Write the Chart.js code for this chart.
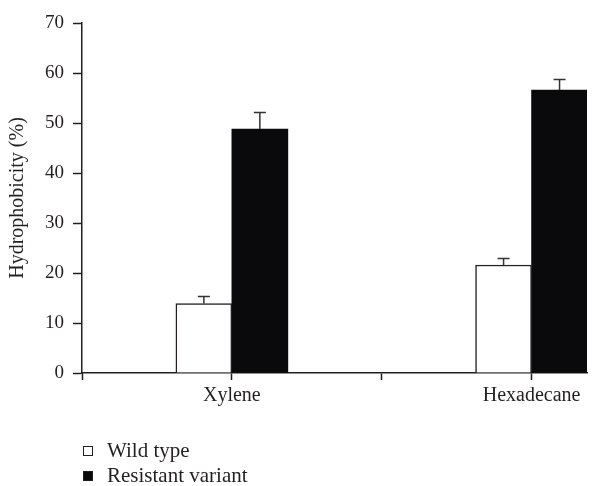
<!DOCTYPE html>
<html>
<head>
<meta charset="utf-8">
<script src="https://cdn.jsdelivr.net/npm/chart.js@4"></script>
<style>
  body { margin: 0; background: #fff; }
  #wrap { position: relative; width: 600px; height: 486px; }
  #legend { position: absolute; left: 83px; top: 438px; font-family: "Liberation Serif", serif; font-size: 21px; color: #231f20; }
  #legend .item { display: flex; align-items: center; height: 25px; }
  #legend .box { width: 10px; height: 10px; box-sizing: border-box; border: 1.3px solid #231f20; margin-right: 14px; }
</style>
</head>
<body>
<div id="wrap">
  <canvas id="chart" width="600" height="486"></canvas>
  <div id="legend"></div>
</div>
<script>
// values
const categories = ['Xylene', 'Hexadecane'];
const seriesNames = ['Wild type', 'Resistant variant'];
const wildType = [13.9, 21.6];
const wildTypeErr = [1.4, 1.3];
const resistant = [48.8, 56.6];
const resistantErr = [3.3, 2.1];
const yTicks = [0, 10, 20, 30, 40, 50, 60, 70];

const ink = '#231f20';
const font = "'Liberation Serif', serif";

// category i sits on x = 2i + 1, ticks in between are unlabeled
const toPoints = vals => vals.map((v, i) => ({ x: 2 * i + 1, y: v }));

const errorBars = {
    id: 'errorBars',
    afterDatasetsDraw(chart) {
        const ctx = chart.ctx, yScale = chart.scales.y;
        ctx.save();
        ctx.strokeStyle = '#333';
        ctx.lineWidth = 1.5;
        chart.data.datasets.forEach((ds, di) => {
            chart.getDatasetMeta(di).data.forEach((bar, i) => {
                const top = yScale.getPixelForValue(ds.data[i].y + ds.errors[i]);
                ctx.beginPath();
                ctx.moveTo(bar.x, bar.y);
                ctx.lineTo(bar.x, top);
                ctx.moveTo(bar.x - 6, top);
                ctx.lineTo(bar.x + 6, top);
                ctx.stroke();
            });
        });
        ctx.restore();
    }
};

const chart = new Chart(document.getElementById('chart').getContext('2d'), {
    type: 'bar',
    data: {
        datasets: [
            { label: seriesNames[0], data: toPoints(wildType), errors: wildTypeErr, backgroundColor: '#fff', borderColor: ink, borderWidth: 1.5, barThickness: 56 },
            { label: seriesNames[1], data: toPoints(resistant), errors: resistantErr, backgroundColor: '#0a0a0c', borderColor: '#0a0a0c', borderWidth: 0, barThickness: 56 }
        ]
    },
    options: {
        responsive: false,
        animation: false,
        layout: { padding: { left: 0, right: 13, top: 23, bottom: 73 } },
        plugins: { legend: { display: false }, tooltip: { enabled: false } },
        scales: {
            x: {
                type: 'linear', min: 0, max: 3.37, offset: false,
                afterFit: s => { s.height = 40; },
                grid: { offset: false, drawOnChartArea: false, tickLength: 7, tickColor: ink, tickWidth: 1.5 },
                border: { color: ink, width: 1.5 },
                ticks: {
                    stepSize: 1, includeBounds: false, autoSkip: false, maxRotation: 0, padding: 4,
                    color: ink, font: { family: font, size: 20 },
                    callback: v => (v % 2 === 1 ? categories[(v - 1) / 2] : '')
                }
            },
            y: {
                min: 0, max: 70,
                afterFit: s => { s.width = 82; },
                afterBuildTicks: s => { s.ticks = yTicks.map(v => ({ value: v })); },
                grid: { drawOnChartArea: false, tickLength: 9, tickColor: ink, tickWidth: 1.5 },
                border: { color: ink, width: 1.5 },
                ticks: { padding: 9, color: ink, font: { family: font, size: 19 } },
                title: { display: true, text: 'Hydrophobicity (%)', color: ink, padding: { top: 6 }, font: { family: font, size: 20 } }
            }
        }
    },
    plugins: [errorBars]
});

// legend stacked under the axis, as in the figure
const legend = document.getElementById('legend');
chart.data.datasets.forEach(ds => {
    const row = document.createElement('div');
    row.className = 'item';
    const box = document.createElement('span');
    box.className = 'box';
    box.style.background = ds.backgroundColor;
    const txt = document.createElement('span');
    txt.textContent = ds.label;
    row.appendChild(box);
    row.appendChild(txt);
    legend.appendChild(row);
});
</script>
</body>
</html>
